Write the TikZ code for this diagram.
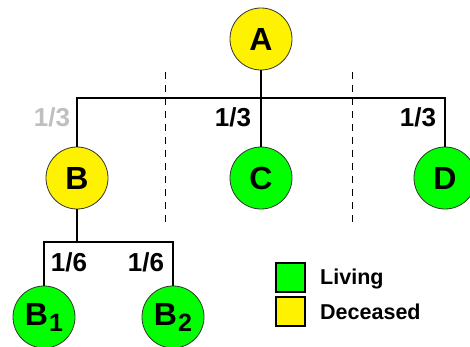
\documentclass[tikz,border=0pt]{standalone}
\usepackage{fontspec}
\setmainfont{Liberation Sans}
\begin{document}
\begin{tikzpicture}[x=1pt,y=-1pt,
  person/.style={circle,draw=black!80,line width=0.8pt,minimum size=62pt,inner sep=0pt,font=\fontsize{32}{32}\selectfont\bfseries},
  living/.style={person,fill=green},
  dead/.style={person,fill=yellow},
  link/.style={line width=2.2pt},
  share/.style={font=\fontsize{26}{26}\selectfont\bfseries,inner sep=0pt},
  sep/.style={line width=0.9pt,dash pattern=on 7pt off 6pt},
  key/.style={draw=black,line width=1.5pt,minimum size=29pt,inner sep=0pt},
  keytext/.style={font=\fontsize{21.5}{21.5}\selectfont\bfseries,anchor=west,inner sep=0pt}]
\useasboundingbox (0,0) rectangle (470,347);
\begin{scope}
\clip (0,0) rectangle (470,347);
\coordinate (hl) at (77,98);
\coordinate (hr) at (445,98);
\coordinate (bj) at (77,242);
\coordinate (bl) at (44,242);
\coordinate (br) at (173,242);
\coordinate (d1t) at (165,72);
\coordinate (d1b) at (165,222);
\coordinate (d2t) at (352,72);
\coordinate (d2b) at (352,222);
\draw[sep] (d1t) -- (d1b);
\draw[sep] (d2t) -- (d2b);
\node[dead] (A) at (261,39) {A};
\node[dead] (B) at (77,178) {B};
\node[living] (C) at (261,178) {C};
\node[living] (D) at (445,178) {D};
\node[living] (B1) at (44,317) {B\kern1pt\raisebox{-6pt}{\fontsize{25}{25}\selectfont 1}};
\node[living] (B2) at (173,317) {B\kern1pt\raisebox{-6pt}{\fontsize{25}{25}\selectfont 2}};
\draw[link] (A) -- (A |- hl);
\draw[link] (B) -- (hl) -- (hr) -- (D);
\draw[link] (C) -- (C |- hl);
\draw[link] (B) -- (bj);
\draw[link] (B1) -- (bl) -- (br) -- (B2);
\node[share,text=black!25] (s1) at (52,117) {1/3};
\node[share] (s2) at (233,117) {1/3};
\node[share] (s3) at (418,117) {1/3};
\node[share] (s4) at (69,262) {1/6};
\node[share] (s5) at (146,262) {1/6};
\node[key,fill=green] (kl) at (290.5,277.5) {};
\node[key,fill=yellow] (kd) at (290.5,311.5) {};
\node[keytext] (tl) at (320,279) {Living};
\node[keytext] (td) at (320,312) {Deceased};
\end{scope}
\end{tikzpicture}
\end{document}
